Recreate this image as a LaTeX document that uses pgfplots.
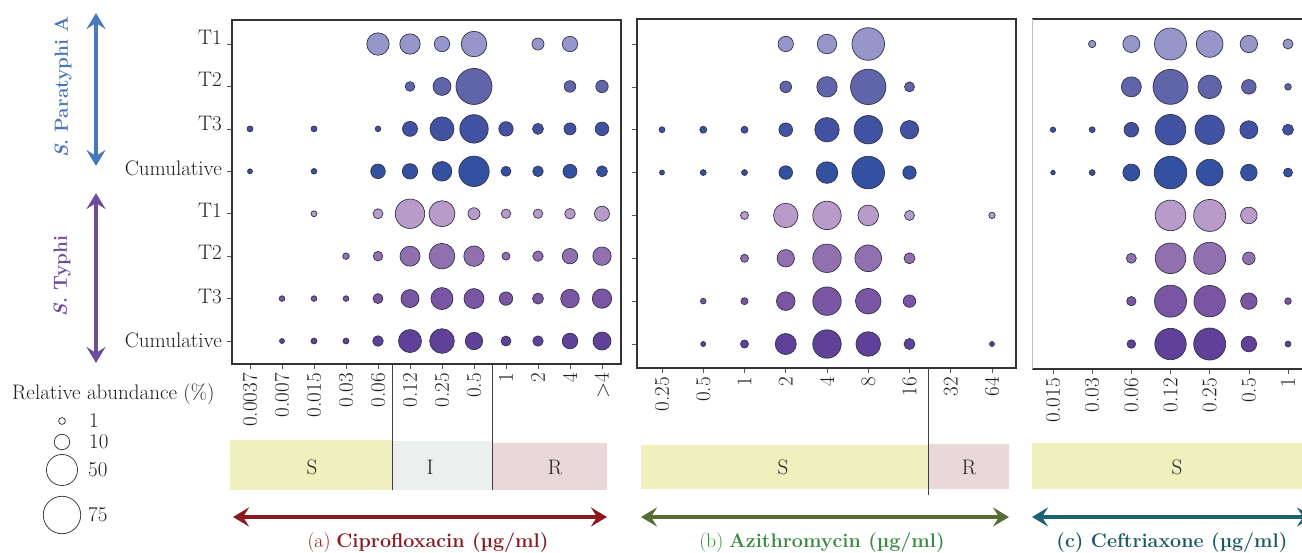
\documentclass[border=0pt]{standalone}
\usepackage{pgfplots}
\pgfplotsset{compat=1.18}
\usepackage{pgfplotstable}
\usetikzlibrary{arrows.meta}
\newcommand\fs{\fontsize{21}{24}\selectfont}
\newcommand\fst{\fontsize{19.7}{23}\selectfont}
\definecolor{ca}{RGB}{150,150,202}
\definecolor{cb}{RGB}{96,101,170}
\definecolor{cc}{RGB}{66,82,162}
\definecolor{cd}{RGB}{52,80,160}
\definecolor{ce}{RGB}{185,155,202}
\definecolor{cf}{RGB}{145,112,176}
\definecolor{cg}{RGB}{122,85,163}
\definecolor{ch}{RGB}{95,65,153}
\definecolor{edge}{RGB}{50,50,72}
\definecolor{bandS}{RGB}{238,240,190}
\definecolor{bandI}{RGB}{237,239,239}
\definecolor{bandR}{RGB}{232,216,218}
\definecolor{redA}{RGB}{138,26,32}
\definecolor{greenArr}{RGB}{86,110,50}
\definecolor{greenT}{RGB}{58,138,66}
\definecolor{tealArr}{RGB}{30,100,112}
\definecolor{tealT}{RGB}{30,88,100}
\definecolor{blueS}{RGB}{70,120,190}
\definecolor{purpS}{RGB}{110,76,156}
\definecolor{txt}{RGB}{30,30,30}

% Ciprofloxacin: x = MIC index (0 = 0.0037 ... 11 = >4), y = row (1..8), v = relative abundance (%)
\pgfplotstableread{
x y v
4 1 24
5 1 19.4
6 1 9.9
7 1 32.5
9 1 5.3
10 1 9.9
5 2 2.9
6 2 14.4
7 2 68.9
10 2 4.8
11 2 5.8
0 3 0.6
2 3 0.6
4 3 0.5
5 3 9.3
6 3 28.1
7 3 41
8 3 8.4
9 3 4.2
10 3 5.3
11 3 7.3
0 4 0.3
2 4 0.5
4 4 8.7
5 4 9.9
6 4 17.6
7 4 47.6
8 4 3.2
9 4 3.8
10 4 7.8
11 4 4.2
2 5 0.6
4 5 3.2
5 5 44.2
6 5 33.6
7 5 5.3
8 5 2.7
9 5 2.7
10 5 3.8
11 5 9.3
3 6 0.9
4 6 2.9
5 6 18.5
6 6 32.5
7 6 19.4
8 6 1.7
9 6 3.6
10 6 9.9
11 6 15.2
1 7 0.5
2 7 0.5
3 7 0.5
4 7 3.2
5 7 14.4
6 7 23
7 7 18.5
8 7 7
9 7 4.2
10 7 15.6
11 7 17.2
1 8 0.3
2 8 0.6
3 8 0.6
4 8 3.8
5 8 25.5
6 8 29.7
7 8 13.3
8 8 3.2
9 8 3.6
10 8 10.2
11 8 14.4
}\dataA

% Azithromycin: x = 0 (0.25) ... 8 (64)
\pgfplotstableread{
x y v
3 1 9.9
4 1 17.6
5 1 55.5
3 2 4.8
4 2 19.4
5 2 66.4
6 2 3.2
0 3 0.6
1 3 1.1
2 3 1.1
3 3 7.3
4 3 29.2
5 3 41
6 3 15.2
0 4 0.3
1 4 0.6
2 4 0.6
3 4 7.3
4 4 22.1
5 4 55.5
6 4 7
2 5 1.7
3 5 29.2
4 5 41
5 5 19.8
6 5 3.2
8 5 0.8
2 6 1.7
3 6 13.3
4 6 41
5 6 35.4
6 6 4.2
1 7 0.5
2 7 1.1
3 7 15.6
4 7 41
5 7 32.5
6 7 5.8
1 8 0.3
2 8 1.7
3 8 20.7
4 8 41
5 8 29.7
6 8 4.2
8 8 0.3
}\dataB

% Ceftriaxone: x = 0 (0.015) ... 6 (1)
\pgfplotstableread{
x y v
1 1 1.3
2 1 12.6
3 1 53.3
4 1 35.4
5 1 13.3
6 1 3.2
2 2 18.5
3 2 64.8
4 2 27
5 2 8.7
6 2 0.9
0 3 0.4
1 3 0.6
2 3 8.7
3 3 48.3
4 3 44.2
5 3 14.4
6 3 4.2
0 4 0.2
1 4 0.6
2 4 12.6
3 4 55.5
4 4 35.4
5 4 11.9
6 4 2.4
3 5 48.3
4 5 53.3
5 5 11.9
2 6 3.2
3 6 48.3
4 6 53.3
5 6 6
2 7 2.7
3 7 53.3
4 7 51.1
5 7 11.6
6 7 0.9
2 8 2.1
3 8 51.1
4 8 53.3
5 8 10.2
6 8 0.6
}\dataC

\pgfplotsset{
  bub/.style 2 args={scatter, only marks, mark=*, line width=0.7pt,
    scatter/use mapped color={draw=edge, fill=#1},
    restrict expr to domain={\thisrow{y}}{#2:#2},
    visualization depends on={2*sqrt(\thisrow{v})+1.4 \as \rad},
    scatter/@pre marker code/.append style={/tikz/mark size=\rad}},
  panel/.style={scale only axis, anchor=south west, y dir=reverse,
    tick align=outside, xtick pos=left, ytick pos=left,
    major tick length=5pt, tick style={draw=black!65, line width=0.6pt},
    axis line style={draw=black!80, line width=1.1pt},
    ytick={1,...,8}, yticklabels={},
    xticklabel style={rotate=90, anchor=east, font=\fs, text=txt, inner sep=4pt},
    clip=false},
}

\begin{document}
\begin{tikzpicture}[font=\fs, text=txt]
\useasboundingbox (0pt,0pt) rectangle (1302pt,-552pt);
\clip (0pt,0pt) rectangle (1302pt,-552pt);

% resistance bands
\fill[bandS] (230pt,-440pt) rectangle (392pt,-490pt);
\fill[bandI] (392pt,-441pt) rectangle (492pt,-490pt);
\fill[bandR] (493pt,-443pt) rectangle (607pt,-490pt);
\fill[bandS] (641pt,-445pt) rectangle (928pt,-489pt);
\fill[bandR] (928pt,-444pt) rectangle (1009pt,-489pt);
\fill[bandS] (1032pt,-443pt) rectangle (1310pt,-489pt);
\node at (312pt,-467pt) {S};
\node at (430pt,-467pt) {I};
\node at (555pt,-467pt) {R};
\node at (783pt,-467pt) {S};
\node at (969pt,-467pt) {R};
\node at (1177pt,-467pt) {S};
\draw[black!75, line width=0.8pt] (392pt,-364pt) -- (392pt,-490pt);
\draw[black!75, line width=0.8pt] (492pt,-364pt) -- (492pt,-490pt);
\draw[black!75, line width=0.8pt] (928pt,-368pt) -- (928pt,-495pt);

% panel (a)
\begin{axis}[panel, at={(232pt,-364pt)}, width=389pt, height=344pt,
  xmin=-0.5625, xmax=11.594, ymin=0.434, ymax=8.542,
  xtick={0,...,11},
  xticklabels={0.0037,0.007,0.015,0.03,0.06,0.12,0.25,0.5,1,2,4,>4}]
\addplot[bub={ca}{1}] table[x=x,y=y] \dataA;
\addplot[bub={cb}{2}] table[x=x,y=y] \dataA;
\addplot[bub={cc}{3}] table[x=x,y=y] \dataA;
\addplot[bub={cd}{4}] table[x=x,y=y] \dataA;
\addplot[bub={ce}{5}] table[x=x,y=y] \dataA;
\addplot[bub={cf}{6}] table[x=x,y=y] \dataA;
\addplot[bub={cg}{7}] table[x=x,y=y] \dataA;
\addplot[bub={ch}{8}] table[x=x,y=y] \dataA;
\end{axis}

% panel (b)
\begin{axis}[panel, at={(637pt,-368pt)}, width=379pt, height=349pt,
  xmin=-0.606, xmax=8.582, ymin=0.417, ymax=8.56,
  xtick={0,...,8},
  xticklabels={0.25,0.5,1,2,4,8,16,32,64}]
\addplot[bub={ca}{1}] table[x=x,y=y] \dataB;
\addplot[bub={cb}{2}] table[x=x,y=y] \dataB;
\addplot[bub={cc}{3}] table[x=x,y=y] \dataB;
\addplot[bub={cd}{4}] table[x=x,y=y] \dataB;
\addplot[bub={ce}{5}] table[x=x,y=y] \dataB;
\addplot[bub={cf}{6}] table[x=x,y=y] \dataB;
\addplot[bub={cg}{7}] table[x=x,y=y] \dataB;
\addplot[bub={ch}{8}] table[x=x,y=y] \dataB;
\end{axis}

% panel (c)
\begin{axis}[panel, at={(1032pt,-369pt)}, width=315pt, height=350pt,
  xmin=-0.536, xmax=7.506, ymin=0.417, ymax=8.583,
  ytick=\empty, axis line style={draw=none},
  xtick={0,...,6},
  xticklabels={0.015,0.03,0.06,0.12,0.25,0.5,1}]
\draw[black!80, line width=1.1pt] (rel axis cs:0,0) -- (rel axis cs:1,0);
\draw[black!80, line width=1.1pt] (rel axis cs:0,1) -- (rel axis cs:1,1);
\draw[black!25, line width=1pt] (rel axis cs:0,0) -- (rel axis cs:0,1);
\addplot[bub={ca}{1}] table[x=x,y=y] \dataC;
\addplot[bub={cb}{2}] table[x=x,y=y] \dataC;
\addplot[bub={cc}{3}] table[x=x,y=y] \dataC;
\addplot[bub={cd}{4}] table[x=x,y=y] \dataC;
\addplot[bub={ce}{5}] table[x=x,y=y] \dataC;
\addplot[bub={cf}{6}] table[x=x,y=y] \dataC;
\addplot[bub={cg}{7}] table[x=x,y=y] \dataC;
\addplot[bub={ch}{8}] table[x=x,y=y] \dataC;
\end{axis}

% legend bubbles on a canvas axis
\begin{axis}[at={(0pt,-552pt)}, anchor=south west, scale only axis,
  width=1302pt, height=552pt, xmin=0, xmax=1302, ymin=-552, ymax=0,
  hide axis, clip=false]
\addplot[scatter, only marks, mark=o, line width=0.8pt,
  scatter/use mapped color={draw=black!75},
  visualization depends on={2*sqrt(\thisrow{v})+1.4 \as \rad},
  scatter/@pre marker code/.append style={/tikz/mark size=\rad}]
  table[row sep=\\] {x y v\\ 62 -421 1\\ 62 -442 10\\ 62 -470 50\\ 62 -515 75\\};
\end{axis}
\node[anchor=west, inner sep=0pt] at (12pt,-394pt) {Relative abundance (\%)};
\node[anchor=west, inner sep=0pt] at (89pt,-421pt) {1};
\node[anchor=west, inner sep=0pt] at (89pt,-442pt) {10};
\node[anchor=west, inner sep=0pt] at (88pt,-470pt) {50};
\node[anchor=west, inner sep=0pt] at (88pt,-515pt) {75};

% row labels
\foreach \yy/\lab in {37/T1,79/T2,124/T3,168/Cumulative,210/T1,252/T2,297/T3,340/Cumulative}
  \node[anchor=east, inner sep=0pt] at (222pt,-\yy pt) {\lab};

% serovar arrows
\draw[{Stealth[length=16pt,width=19pt,inset=6pt]}-{Stealth[length=16pt,width=19pt,inset=6pt]}, line width=4pt, blueS] (96pt,-13pt) -- (96pt,-166pt);
\draw[{Stealth[length=16pt,width=19pt,inset=6pt]}-{Stealth[length=16pt,width=19pt,inset=6pt]}, line width=4pt, purpS] (96pt,-193pt) -- (96pt,-363pt);
\node[rotate=90, text=blueS, font=\fontsize{19}{22}\selectfont\bfseries] at (63pt,-87pt) {\textit{S}. Paratyphi A};
\node[rotate=90, text=purpS, font=\fontsize{19}{22}\selectfont\bfseries] at (62pt,-276pt) {\textit{S}. Typhi};

% antibiotic arrows and titles
\draw[{Stealth[length=16pt,width=19pt,inset=6pt]}-{Stealth[length=16pt,width=19pt,inset=6pt]}, line width=4pt, redA] (233pt,-517pt) -- (607pt,-517pt);
\draw[{Stealth[length=16pt,width=19pt,inset=6pt]}-{Stealth[length=16pt,width=19pt,inset=6pt]}, line width=4pt, greenArr] (641pt,-517pt) -- (1009pt,-517pt);
\draw[{Stealth[length=16pt,width=19pt,inset=6pt]}-{Stealth[length=16pt,width=19pt,inset=6pt]}, line width=4pt, tealArr] (1032pt,-517pt) -- (1313pt,-517pt);
\node[text=redA, font=\fst] at (428pt,-543pt) {(a) \textbf{Ciprofloxacin (µg/ml)}};
\node[text=greenT, font=\fst] at (822pt,-543pt) {(b) \textbf{Azithromycin (µg/ml)}};
\node[text=tealT, font=\fst] at (1172pt,-543pt) {\textbf{(c) Ceftriaxone (µg/ml)}};
\end{tikzpicture}
\end{document}
